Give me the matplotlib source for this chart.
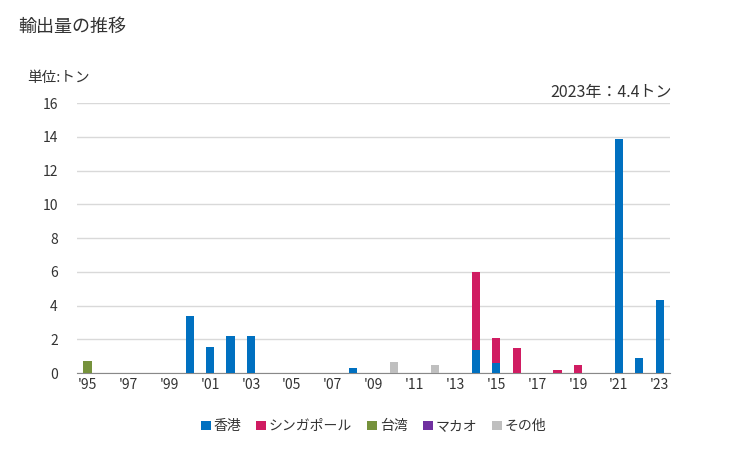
import numpy as np
import matplotlib.pyplot as plt

plt.rcParams['font.family'] = ['Noto Sans CJK JP', 'DejaVu Sans']

years = list(range(1995, 2024))
hongkong = [0, 0, 0, 0, 0, 3.38, 1.54, 2.19, 2.19, 0, 0, 0, 0, 0.3, 0, 0, 0, 0, 0,
            1.38, 0.59, 0, 0, 0, 0, 0, 13.87, 0.9, 4.35]
singapore = [0, 0, 0, 0, 0, 0, 0, 0, 0, 0, 0, 0, 0, 0, 0, 0, 0, 0, 0,
             4.6, 1.48, 1.48, 0, 0.18, 0.47, 0, 0, 0, 0]
taiwan = [0.7] + [0] * 28
macau = [0] * 29
other = [0, 0, 0, 0, 0, 0, 0, 0, 0, 0, 0, 0, 0, 0, 0, 0.65, 0, 0.48, 0,
         0, 0, 0, 0, 0, 0, 0, 0, 0, 0]

series = [('香港', hongkong, '#0070C0'),
          ('シンガポール', singapore, '#D01C62'),
          ('台湾', taiwan, '#76923C'),
          ('マカオ', macau, '#7030A0'),
          ('その他', other, '#BFBFBF')]

fig = plt.figure(figsize=(7.29, 4.5), dpi=100)
ax = fig.add_axes([0.106, 0.171, 0.813, 0.6])

x = np.arange(len(years))
bottom = np.zeros(len(years))
for name, vals, color in series:
    vals = np.array(vals)
    ax.bar(x, vals, width=0.4, bottom=bottom, color=color, label=name, zorder=3)
    bottom += vals

ax.set_xlim(-0.5, len(years) - 0.5)
ax.set_ylim(0, 16)
ax.set_yticks(range(0, 17, 2))
ax.set_xticks(x[::2])
ax.set_xticklabels(["'" + str(y)[2:] for y in years[::2]])
ax.tick_params(axis='both', length=0, labelsize=10, colors='#333333')
ax.tick_params(axis='y', pad=14)
ax.grid(axis='y', color='#D9D9D9', linewidth=1, zorder=0)
for s in ['top', 'right', 'left']:
    ax.spines[s].set_visible(False)
ax.spines['bottom'].set_color('#898989')

fig.text(0.025, 0.94, '輸出量の推移', fontsize=13, color='#333333', va='center')
fig.text(0.037, 0.826, '単位:トン', fontsize=10.5, color='#333333', va='center')
fig.text(0.922, 0.795, '2023年：4.4トン', fontsize=11.5, color='#333333',
         va='center', ha='right')

ax.legend(loc='upper center', bbox_to_anchor=(0.5, -0.125), ncol=5, frameon=False,
          fontsize=10, handlelength=0.7, handleheight=0.7, handletextpad=0.2,
          columnspacing=1.1, labelcolor='#333333')

fig.savefig('out.png', dpi=100)
